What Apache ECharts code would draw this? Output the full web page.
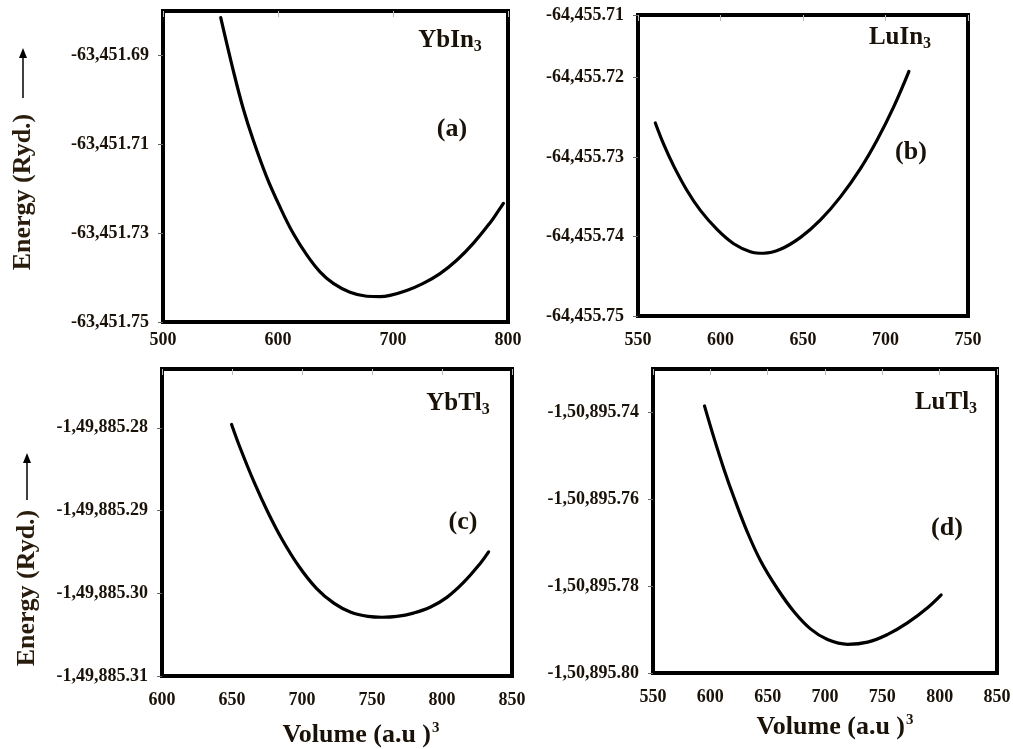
<!DOCTYPE html>
<html>
<head>
<meta charset="utf-8">
<script src="https://cdn.jsdelivr.net/npm/echarts@6/dist/echarts.min.js"></script>
<style>
html,body{margin:0;padding:0;background:#fff;}
#chart{width:1013px;height:749px;}
</style>
</head>
<body>
<div id="chart"></div>
<script>
// ---------- data ----------
const compounds = ['YbIn', 'LuIn', 'YbTl', 'LuTl'];
const panelTags = ['(a)', '(b)', '(c)', '(d)'];

const volA = [550.2, 561.1, 569.8, 578.5, 590.2, 601.7, 613.3, 625.0, 636.5, 648.1, 662.6, 677.1, 688.7, 697.4, 711.9, 726.3, 740.9, 755.4, 769.8, 784.3, 791.6, 796.0];
const energyA = [-63451.6815, -63451.6934, -63451.7020, -63451.7091, -63451.7174, -63451.7241, -63451.7301, -63451.7349, -63451.7387, -63451.7413, -63451.7433, -63451.7442, -63451.7443, -63451.7440, -63451.7429, -63451.7413, -63451.7391, -63451.7361, -63451.7323, -63451.7277, -63451.7250, -63451.7233];

const volB = [560.5, 565.6, 571.6, 579.7, 587.8, 597.9, 608.0, 618.1, 626.2, 636.3, 648.5, 660.6, 672.7, 684.9, 695.0, 705.1, 714.2];
const energyB = [-64455.7257, -64455.7284, -64455.7311, -64455.7342, -64455.7367, -64455.7391, -64455.7409, -64455.7419, -64455.7421, -64455.7416, -64455.7401, -64455.7379, -64455.7350, -64455.7314, -64455.7278, -64455.7236, -64455.7192];

const volC = [649.7, 656.2, 666.1, 675.9, 685.8, 698.0, 710.3, 722.7, 734.9, 747.2, 757.1, 767.7, 779.6, 791.5, 803.5, 815.4, 827.3, 833.3];
const energyC = [-149885.2796, -149885.2826, -149885.2867, -149885.2903, -149885.2935, -149885.2968, -149885.2994, -149885.3012, -149885.3023, -149885.3028, -149885.3029, -149885.3028, -149885.3024, -149885.3017, -149885.3005, -149885.2987, -149885.2964, -149885.2950];

const volD = [594.9, 603.1, 611.8, 620.6, 632.2, 643.9, 658.5, 673.0, 687.6, 702.2, 719.7, 737.2, 754.7, 772.2, 789.7, 801.3];
const energyD = [-150895.7385, -150895.7458, -150895.7530, -150895.7596, -150895.7675, -150895.7742, -150895.7806, -150895.7859, -150895.7899, -150895.7923, -150895.7934, -150895.7929, -150895.7911, -150895.7884, -150895.7849, -150895.7820];

// axis ranges
const yMinList = [-63451.75, -64455.75, -149885.31, -150895.80];
const yMaxList = [-63451.68, -64455.7121, -149885.2729, -150895.73];
const yStepList = [0.02, 0.01, 0.01, 0.02];
const xMinList = [500, 550, 600, 550];
const xMaxList = [800, 750, 850, 850];
const xStepList = [100, 50, 50, 50];

const volumes = [volA, volB, volC, volD];
const energies = [energyA, energyB, energyC, energyD];

// ---------- helpers ----------
function indianFormat(x) {
  const neg = x < 0;
  const s = Math.abs(x).toFixed(2);
  let [ip, dp] = s.split('.');
  let last3 = ip.slice(-3);
  let rest = ip.slice(0, -3);
  if (rest.length) rest = rest.replace(/\B(?=(\d{2})+(?!\d))/g, ',') + ',';
  return (neg ? '-' : '') + rest + last3 + '.' + dp;
}

const FONT = '"Liberation Serif", "Times New Roman", serif';
const TXT = '#1a1208';
const BW = 4;

const grids = [
  {left: 163, top: 11, width: 345, height: 311},
  {left: 638, top: 15, width: 330, height: 301},
  {left: 162, top: 369, width: 350, height: 307},
  {left: 653, top: 369, width: 344, height: 304}
];
const xLabelMargin = [9, 15, 15, 15];
const showMaxY = [false, true, false, false];
const boxLine = {show: true, lineStyle: {color: '#000', width: BW}};

const option = {
  animation: false,
  backgroundColor: '#fff',
  grid: grids.map(g => Object.assign({
    show: true, borderColor: '#000', borderWidth: BW,
    backgroundColor: 'transparent', containLabel: false, outerBoundsMode: 'none'
  }, g)),
  xAxis: [],
  yAxis: [],
  series: [],
  graphic: []
};

for (let i = 0; i < 4; i++) {
  option.xAxis.push({
    type: 'value', gridIndex: i, min: xMinList[i], max: xMaxList[i], interval: xStepList[i],
    axisLine: boxLine, splitLine: {show: false},
    axisTick: {show: false},
    axisLabel: {margin: xLabelMargin[i], color: TXT, fontFamily: FONT, fontWeight: 'bold', fontSize: 18}
  });
  option.xAxis.push({
    type: 'value', gridIndex: i, position: 'top', min: xMinList[i], max: xMaxList[i], interval: xStepList[i],
    axisLine: boxLine, splitLine: {show: false},
    axisTick: {show: true, inside: true, length: 6, lineStyle: {color: '#bbb', width: 1}},
    axisLabel: {show: false}
  });
  const base = yMinList[i];
  option.yAxis.push({
    type: 'value', gridIndex: i, min: 0, max: yMaxList[i] - base, interval: yStepList[i],
    axisLine: boxLine, splitLine: {show: false},
    axisTick: {show: true, length: 5, lineStyle: {color: '#666', width: 1}},
    axisLabel: {
      margin: 14, color: TXT, fontFamily: FONT, fontWeight: 'bold', fontSize: 18,
      showMaxLabel: showMaxY[i],
      formatter: v => indianFormat(base + v)
    }
  });
  option.series.push({
    type: 'line', xAxisIndex: 2 * i, yAxisIndex: i,
    data: volumes[i].map((v, k) => [v, energies[i][k] - base]),
    smooth: 0.4, showSymbol: false,
    lineStyle: {color: '#000', width: 3.2, cap: 'round', join: 'round'}
  });
}

// compound names and panel tags
const namePos = [[450, 41], [900, 38], [458, 404], [946, 403]];
const tagPos = [[452, 129], [911, 152], [463, 522], [947, 528]];
const rich = {
  m: {fontFamily: FONT, fontWeight: 'bold', fontSize: 25, fill: TXT, color: TXT},
  s: {fontFamily: FONT, fontWeight: 'bold', fontSize: 16, fill: TXT, color: TXT, padding: [12, 0, 0, 0]}
};
for (let i = 0; i < 4; i++) {
  option.graphic.push({
    type: 'text', x: namePos[i][0], y: namePos[i][1], z: 10,
    style: {text: '{m|' + compounds[i] + '}{s|3}', rich: rich, align: 'center', verticalAlign: 'middle'}
  });
  option.graphic.push({
    type: 'text', x: tagPos[i][0], y: tagPos[i][1], z: 10,
    style: {text: panelTags[i], font: 'bold 26px ' + FONT, fill: TXT, align: 'center', verticalAlign: 'middle'}
  });
}

// Y axis titles with arrows
const yTitles = [{x: 23, y: 192, ay1: 98, ay2: 48}, {x: 27, y: 588, ay1: 500, ay2: 453}];
yTitles.forEach(t => {
  option.graphic.push({
    type: 'text', x: t.x, y: t.y, rotation: Math.PI / 2, z: 10,
    style: {text: 'Energy (Ryd.)', font: 'bold 26px ' + FONT, fill: '#2a1c0c', align: 'center', verticalAlign: 'middle'}
  });
  option.graphic.push({
    type: 'line', z: 10,
    shape: {x1: t.x, y1: t.ay1, x2: t.x, y2: t.ay2 + 8},
    style: {stroke: '#000', lineWidth: 1.5}
  });
  option.graphic.push({
    type: 'polygon', z: 10,
    shape: {points: [[t.x, t.ay2], [t.x - 4, t.ay2 + 10], [t.x + 4, t.ay2 + 10]]},
    style: {fill: '#000'}
  });
});

// X axis titles
const xRich = {
  m: {fontFamily: FONT, fontWeight: 'bold', fontSize: 26, fill: TXT, color: TXT},
  p: {fontFamily: FONT, fontWeight: 'bold', fontSize: 15, fill: TXT, color: TXT, padding: [0, 0, 14, 1]}
};
const xTitles = [[361, 735], [835, 727]];
xTitles.forEach(p => {
  option.graphic.push({
    type: 'text', x: p[0], y: p[1], z: 10,
    style: {text: '{m|Volume (a.u )}{p|3}', rich: xRich, align: 'center', verticalAlign: 'middle'}
  });
});

const chart = echarts.init(document.getElementById('chart'), null, {renderer: 'canvas'});
chart.setOption(option);
</script>
</body>
</html>
